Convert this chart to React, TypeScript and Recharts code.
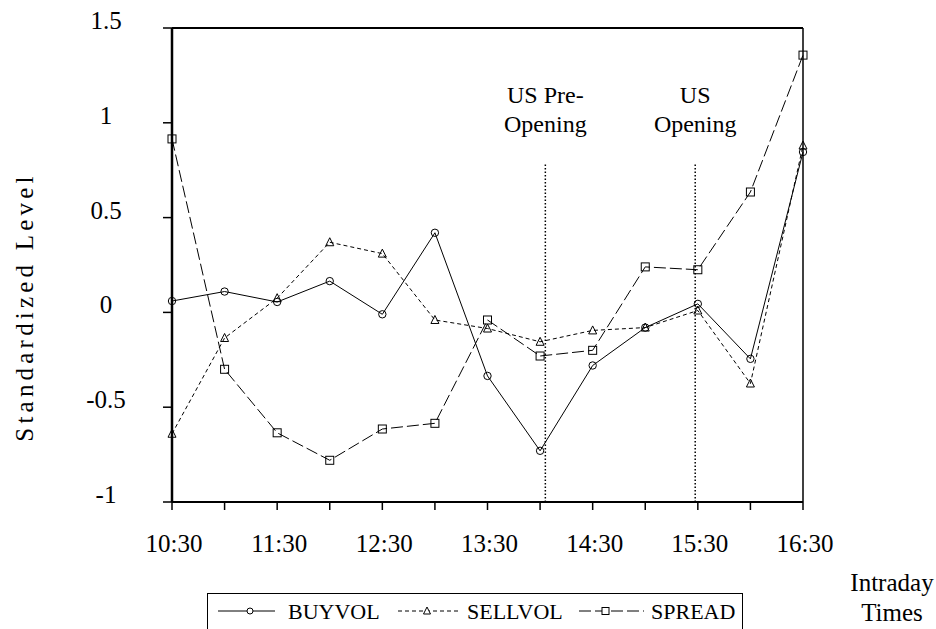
import React from 'react';
import { LineChart, Line, XAxis, YAxis, ReferenceLine } from 'recharts';

const times = ['10:30', '11:00', '11:30', '12:00', '12:30', '13:00', '13:30', '14:00', '14:30', '15:00', '15:30', '16:00', '16:30'];
const buyVol = [0.06, 0.11, 0.055, 0.165, -0.01, 0.42, -0.335, -0.73, -0.28, -0.08, 0.045, -0.245, 0.846];
const sellVol = [-0.64, -0.135, 0.075, 0.37, 0.31, -0.04, -0.085, -0.155, -0.095, -0.08, 0.01, -0.375, 0.88];
const spread = [0.915, -0.3, -0.635, -0.78, -0.615, -0.585, -0.04, -0.23, -0.2, 0.24, 0.225, 0.635, 1.357];
const yTicks = [-1, -0.5, 0, 0.5, 1, 1.5];
const events = [
  { x: 7.1, top: 0.78, lines: ['US Pre-', 'Opening'] },
  { x: 9.95, top: 0.78, lines: ['US', 'Opening'] },
];

const data = times.map((t, i) => ({ x: i, time: t, buy: buyVol[i], sell: sellVol[i], spread: spread[i] }));

const FONT = '"Liberation Serif", "Times New Roman", serif';

const CircleDot = (p: any) => <circle key={p.index} cx={p.cx} cy={p.cy} r={3.7} fill="none" stroke="#000" strokeWidth={1} />;
const TriDot = (p: any) => (
  <path key={p.index} d={`M${p.cx},${p.cy - 4.5}L${p.cx + 4},${p.cy + 3.5}L${p.cx - 4},${p.cy + 3.5}Z`} fill="none" stroke="#000" strokeWidth={1} />
);
const SquareDot = (p: any) => <rect key={p.index} x={p.cx - 4} y={p.cy - 4} width={8} height={8} fill="none" stroke="#000" strokeWidth={1} />;

const XTick = (p: any) => {
  const i = p.payload.value;
  if (i % 2 !== 0) return <g />;
  return (
    <text x={p.x + 2} y={p.y + 42} textAnchor="middle" fontFamily={FONT} fontSize={25} fill="#000">
      {times[i]}
    </text>
  );
};

const YTick = (p: any) => (
  <text x={106} y={p.y + 1} textAnchor="middle" fontFamily={FONT} fontSize={25} fill="#000">
    {String(p.payload.value)}
  </text>
);

const EventLine = (lines: string[]) => (p: any) => {
  const top = Math.min(p.y1, p.y2);
  return (
    <g>
      <line x1={p.x1} y1={p.y1} x2={p.x2} y2={p.y2} stroke="#000" strokeWidth={1.5} strokeDasharray="1.5 2" />
      <text x={p.x1} y={top - 62} textAnchor="middle" fontFamily={FONT} fontSize={24} fill="#000">{lines[0]}</text>
      <text x={p.x1} y={top - 33} textAnchor="middle" fontFamily={FONT} fontSize={24} fill="#000">{lines[1]}</text>
    </g>
  );
};

const YTitle = (p: any) => {
  const vb = p.viewBox;
  const cx = 24;
  const cy = vb.y + vb.height / 2 + 42;
  return (
    <text x={cx} y={cy} transform={`rotate(-90 ${cx} ${cy})`} textAnchor="middle" dominantBaseline="central"
      fontFamily={FONT} fontSize={25} letterSpacing={4.2} fill="#000">
      Standardized Level
    </text>
  );
};

const legendText: React.CSSProperties = { position: 'absolute', top: 6, fontFamily: FONT, fontSize: 22, lineHeight: '24px' };

export default function App() {
  return (
    <div style={{ position: 'absolute', left: 0, top: 0, width: 936, height: 629, overflow: 'hidden', background: '#fff' }}>
      <LineChart width={936} height={629} data={data} margin={{ top: 28, right: 133, bottom: 67, left: 0 }}>
        <XAxis
          dataKey="x"
          type="number"
          domain={[0, 12]}
          ticks={times.map((_, i) => i)}
          interval={0}
          height={60}
          tickSize={8}
          tickMargin={0}
          tick={XTick}
          axisLine={{ stroke: '#000', strokeWidth: 2 }}
          tickLine={{ stroke: '#000', strokeWidth: 1.5 }}
        />
        <YAxis
          type="number"
          domain={[-1, 1.5]}
          ticks={yTicks}
          width={172}
          tickSize={9}
          tickMargin={0}
          tick={YTick}
          axisLine={{ stroke: '#000', strokeWidth: 2.5 }}
          tickLine={{ stroke: '#000', strokeWidth: 1.5 }}
          label={<YTitle />}
        />
        <ReferenceLine y={1.5} stroke="#000" strokeWidth={2} />
        <ReferenceLine x={12} stroke="#000" strokeWidth={1.5} />
        {events.map((e) => (
          <ReferenceLine
            key={e.x}
            segment={[{ x: e.x, y: -1 }, { x: e.x, y: e.top }]}
            shape={EventLine(e.lines)}
          />
        ))}
        <Line type="linear" dataKey="buy" stroke="#000" strokeWidth={1} dot={CircleDot} isAnimationActive={false} />
        <Line type="linear" dataKey="sell" stroke="#000" strokeWidth={1} strokeDasharray="4 3" dot={TriDot} isAnimationActive={false} />
        <Line type="linear" dataKey="spread" stroke="#000" strokeWidth={1} strokeDasharray="12 4" dot={SquareDot} isAnimationActive={false} />
      </LineChart>

      <svg width={100} height={60} style={{ position: 'absolute', left: 842, top: 566 }}>
        <text x={50} y={25} textAnchor="middle" fontFamily={FONT} fontSize={25} fill="#000">Intraday</text>
        <text x={50} y={55} textAnchor="middle" fontFamily={FONT} fontSize={25} fill="#000">Times</text>
      </svg>

      <div style={{ position: 'absolute', left: 207, top: 593, width: 534, height: 50, border: '1px solid #000' }}>
        <svg width={534} height={40} style={{ position: 'absolute', left: 0, top: 0 }}>
          <line x1={10} y1={17} x2={67} y2={17} stroke="#000" strokeWidth={1} />
          <circle cx={42} cy={17} r={3} fill="#fff" stroke="#000" />
          <line x1={190} y1={17} x2={250} y2={17} stroke="#000" strokeWidth={1} strokeDasharray="4 3" />
          <path d="M219,13L222.5,20L215.5,20Z" fill="#fff" stroke="#000" />
          <line x1={371} y1={17} x2={436} y2={17} stroke="#000" strokeWidth={1} strokeDasharray="12 4" />
          <rect x={394} y={13.5} width={7} height={7} fill="#fff" stroke="#000" />
        </svg>
        <span style={{ ...legendText, left: 80 }}>BUYVOL</span>
        <span style={{ ...legendText, left: 259 }}>SELLVOL</span>
        <span style={{ ...legendText, left: 443 }}>SPREAD</span>
      </div>
    </div>
  );
}
